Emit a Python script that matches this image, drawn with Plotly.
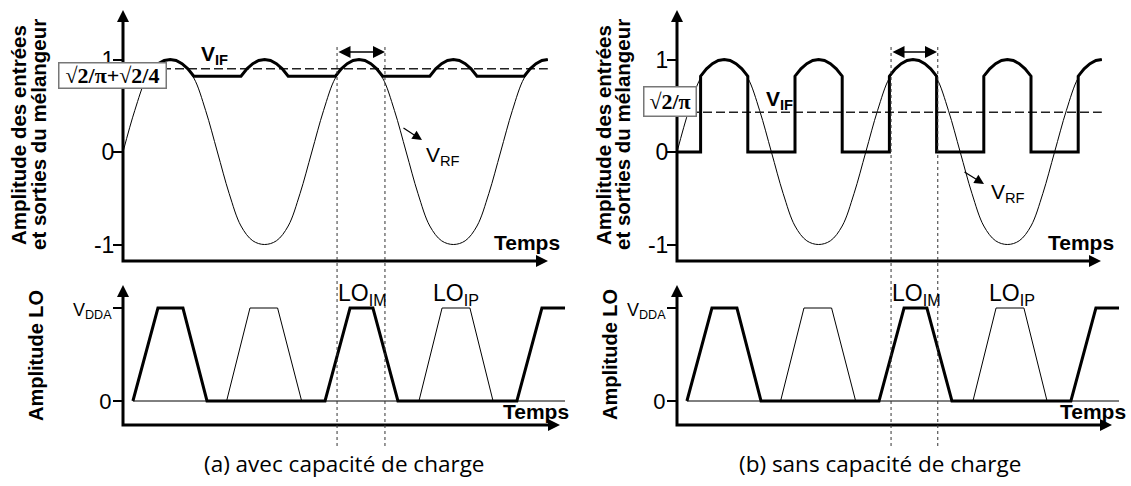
import plotly.graph_objects as go

W, H = 1131, 486

# ---------------- data (time unit = 1/8 of the RF period) ----------------
t_rf = [0, 0.5, 1, 1.5, 2, 2.5, 3, 3.5, 4, 4.5, 5, 5.5, 6, 6.5, 7, 7.5, 8, 8.5, 9, 9.5,
        10, 10.5, 11, 11.5, 12, 12.5, 13, 13.5, 14, 14.5, 15, 15.5, 16, 16.5, 17, 17.5, 18]
v_rf = [0, 0.45, 0.8, 0.96, 1, 0.96, 0.8, 0.45, 0, -0.45, -0.8, -0.96, -1, -0.96, -0.8, -0.45,
        0, 0.45, 0.8, 0.96, 1, 0.96, 0.8, 0.45, 0, -0.45, -0.8, -0.96, -1, -0.96, -0.8, -0.45,
        0, 0.45, 0.8, 0.96, 1]

# shape of one rectified hump of V_IF (offset from hump centre, value)
hump_dt = [-1, -0.75, -0.5, -0.25, 0, 0.25, 0.5, 0.75, 1]
hump_v = [0.82, 0.9, 0.955, 0.99, 1.0, 0.99, 0.955, 0.9, 0.82]
hump_c = [2, 6, 10, 14, 18]

vif_avg_a = 0.9    # dashed mean level, with load capacitance
vif_avg_b = 0.43   # dashed mean level, without load capacitance

lo_im_t = [0.42, 1.48, 2.54, 3.56, 8.56, 9.62, 10.59, 11.65, 16.69, 17.75, 18.73]
lo_im_v = [0, 1, 1, 0, 0, 1, 1, 0, 0, 1, 1]
lo_ip_t = [0.42, 4.39, 5.38, 6.55, 7.57, 12.54, 13.52, 14.7, 15.68, 18.73]
lo_ip_v = [0, 0, 1, 1, 0, 0, 1, 1, 0, 0]

window_a = [9.07, 11.1]
window_b = [9.07, 11.05]

top_ticks = [-1, 0, 1]
top_ticktext = ['-1', '0', '1']
bot_ticks = [0, 1]
bot_ticktext = ['0', "<span style='font-size:18px'>V<sub>DDA</sub></span>"]

# V_IF with load capacitance (held level between humps)
vif_a_t, vif_a_v = [], []
for c in hump_c:
    for dt, v in zip(hump_dt, hump_v):
        t = c + dt
        if 1.5 <= t <= 18:
            vif_a_t.append(t)
            vif_a_v.append(v)

# V_IF without load capacitance (returns to 0)
vif_b_t, vif_b_v = [0], [0]
for c in hump_c:
    vif_b_t.append(c - 1); vif_b_v.append(0)
    for dt, v in zip(hump_dt, hump_v):
        t = c + dt
        if t <= 18:
            vif_b_t.append(t); vif_b_v.append(v)
    if c + 1 <= 18:
        vif_b_t.append(c + 1); vif_b_v.append(0)

# ---------------- geometry helpers ----------------
PX = 23.6                 # px per time unit
TOP0, TOPU = 152, 92.5     # top panels: px of 0, px per unit
BOT0, BOTU = 401, 93       # bottom panels

def X(px):
    return px / W

def Y(py):
    return 1 - py / H

fig = go.Figure()

xr = [(100 - 123) / PX, (575 - 123) / PX]
ytop_r = [(TOP0 - 272) / TOPU, (TOP0 - 3) / TOPU]
ybot_r = [(BOT0 - 440) / BOTU, (BOT0 - 278) / BOTU]

thick = dict(color='black', width=3)
thin = dict(color='black', width=1)

def axes_trace(xa, ya, xtip, ybase, ytip):
    fig.add_trace(go.Scatter(x=[0, 0, xtip - 0.35], y=[ytip - 0.08, ybase, ybase],
                             mode='lines', line=dict(color='black', width=3), xaxis=xa, yaxis=ya,
                             hoverinfo='skip', showlegend=False))
    fig.add_trace(go.Scatter(x=[0], y=[ytip], mode='markers', xaxis=xa, yaxis=ya, cliponaxis=False,
                             marker=dict(symbol='arrow-up', size=12, color='black', line=dict(width=0)),
                             hoverinfo='skip', showlegend=False))
    fig.add_trace(go.Scatter(x=[xtip], y=[ybase], mode='markers', xaxis=xa, yaxis=ya, cliponaxis=False,
                             marker=dict(symbol='arrow-right', size=12, color='black', line=dict(width=0)),
                             hoverinfo='skip', showlegend=False))

for xa_top, ya_top, xa_bot, ya_bot, vif_t, vif_v, avg in [
        ('x', 'y', 'x3', 'y3', vif_a_t, vif_a_v, vif_avg_a),
        ('x2', 'y2', 'x4', 'y4', vif_b_t, vif_b_v, vif_avg_b)]:
    fig.add_trace(go.Scatter(x=t_rf, y=v_rf, mode='lines', line=dict(color='black', width=1, shape='spline'),
                             xaxis=xa_top, yaxis=ya_top, showlegend=False, name='V_RF'))
    fig.add_trace(go.Scatter(x=[0, 18], y=[avg, avg], mode='lines',
                             line=dict(color='#222', width=1.5, dash='9px,4px'),
                             xaxis=xa_top, yaxis=ya_top, showlegend=False, name='mean'))
    fig.add_trace(go.Scatter(x=vif_t, y=vif_v, mode='lines', line=thick,
                             xaxis=xa_top, yaxis=ya_top, showlegend=False, name='V_IF'))
    fig.add_trace(go.Scatter(x=lo_ip_t, y=lo_ip_v, mode='lines', line=thin,
                             xaxis=xa_bot, yaxis=ya_bot, showlegend=False, name='LO_IP'))
    fig.add_trace(go.Scatter(x=lo_im_t, y=lo_im_v, mode='lines', line=thick,
                             xaxis=xa_bot, yaxis=ya_bot, showlegend=False, name='LO_IM'))

axes_trace('x', 'y', (548 - 123) / PX, (TOP0 - 261) / TOPU, (TOP0 - 10) / TOPU)
axes_trace('x2', 'y2', (1101 - 677) / PX, (TOP0 - 261) / TOPU, (TOP0 - 10) / TOPU)
axes_trace('x3', 'y3', (560 - 123) / PX, (BOT0 - 425) / BOTU, (BOT0 - 285) / BOTU)
axes_trace('x4', 'y4', (1112 - 677) / PX, (BOT0 - 425) / BOTU, (BOT0 - 285) / BOTU)

def xax(px0, px1):
    return dict(domain=[X(px0), X(px1)], range=xr, visible=False, fixedrange=True)

def yax(pos_px, top, rng, vals, texts):
    d0, d1 = (Y(272), Y(3)) if top else (Y(440), Y(278))
    return dict(domain=[d0, d1], range=rng, anchor='free', position=X(pos_px), side='left',
                showgrid=False, zeroline=False, showline=False, ticks='outside', ticklen=10,
                tickwidth=1.5, tickcolor='black', tickvals=vals, ticktext=texts,
                tickfont=dict(family='Liberation Sans', size=23 if top else 22, color='black'),
                ticklabelstandoff=-6 if top else -3, fixedrange=True)

fig.update_layout(
    width=W, height=H, margin=dict(l=0, r=0, t=0, b=0),
    paper_bgcolor='white', plot_bgcolor='rgba(0,0,0,0)', showlegend=False,
    xaxis=xax(100, 575), xaxis2=xax(654, 1129), xaxis3=xax(100, 575), xaxis4=xax(654, 1129),
    yaxis=yax(123, True, ytop_r, top_ticks, top_ticktext),
    yaxis2=yax(677, True, ytop_r, top_ticks, top_ticktext),
    yaxis3=yax(123, False, ybot_r, bot_ticks, bot_ticktext),
    yaxis4=yax(677, False, ybot_r, bot_ticks, bot_ticktext),
)

shapes = []
for xref, win in [('x', window_a), ('x2', window_b)]:
    for tx in win:
        shapes.append(dict(type='line', xref=xref, yref='paper', x0=tx, x1=tx, y0=Y(47), y1=Y(447),
                           line=dict(color='#333', width=1, dash='dot')))
fig.update_layout(shapes=shapes)

anns = []

def text(t, px, py, size, family='Liberation Sans', bold=False, angle=0, **kw):
    if bold:
        t = '<b>' + t + '</b>'
    d = dict(text=t, x=X(px), y=Y(py), xref='paper', yref='paper', showarrow=False,
             font=dict(family=family, size=size, color='black'), textangle=angle,
             xanchor='center', yanchor='middle')
    d.update(kw)
    anns.append(d)

text('√2/π+√2/4', 112.5, 76, 22, family='Liberation Serif', bold=True,
     bordercolor='#777', borderwidth=1.5, bgcolor='white', borderpad=1, width=104, height=22)
text('√2/π', 670, 101.5, 22, family='Liberation Serif', bold=True,
     bordercolor='#777', borderwidth=1.5, bgcolor='white', borderpad=1, width=49, height=26)

text('V<sub>IF</sub>', 214, 55, 21, bold=True)
text('V<sub>IF</sub>', 779, 100, 21, bold=True)
text('V<sub>RF</sub>', 443, 156, 21)
text('V<sub>RF</sub>', 1008, 193, 21)

for px, py in [(527, 242), (536, 411), (1081, 242), (1093, 411)]:
    text('Temps', px, py, 21, bold=True)

for px, lab in [(362, 'IM'), (456, 'IP'), (916, 'IM'), (1012, 'IP')]:
    text('LO<sub>' + lab + '</sub>', px, 294, 23)

text('Amplitude des entrées', 18, 135, 20.5, bold=True, angle=-90)
text('et sorties du mélangeur', 38, 135, 20.5, bold=True, angle=-90)
text('Amplitude des entrées', 603, 135, 20.5, bold=True, angle=-90)
text('et sorties du mélangeur', 622, 135, 20.5, bold=True, angle=-90)
text('Amplitude LO', 36, 356, 20, bold=True, angle=-90)
text('Amplitude LO', 610, 355, 20, bold=True, angle=-90)

text('(a) avec capacité de charge', 344, 463, 22.5, family='Open Sans')
text('(b) sans capacité de charge', 880, 463, 22.5, family='Open Sans')

for hx, hy, dx, dy in [(422, 140, -20, -13), (984, 184, -21, -13)]:
    anns.append(dict(x=X(hx), y=Y(hy), xref='paper', yref='paper', text='', showarrow=True,
                     ax=dx, ay=dy, arrowhead=2, arrowsize=1.6, arrowwidth=1.2, arrowcolor='black',
                     standoff=0, startstandoff=0))
for x0, x1 in [(337, 385), (891, 937)]:
    anns.append(dict(x=X(x1), y=Y(52), xref='paper', yref='paper', text='', showarrow=True,
                     ax=x0 - x1, ay=0, arrowhead=2, startarrowhead=2, arrowside='end+start',
                     arrowsize=1.6, startarrowsize=1.6, arrowwidth=1.5, arrowcolor='black',
                     standoff=0, startstandoff=0))

fig.update_layout(annotations=anns)
fig.write_html('out.html', post_script="document.body.style.margin='0';",
               config={'displayModeBar': False})
